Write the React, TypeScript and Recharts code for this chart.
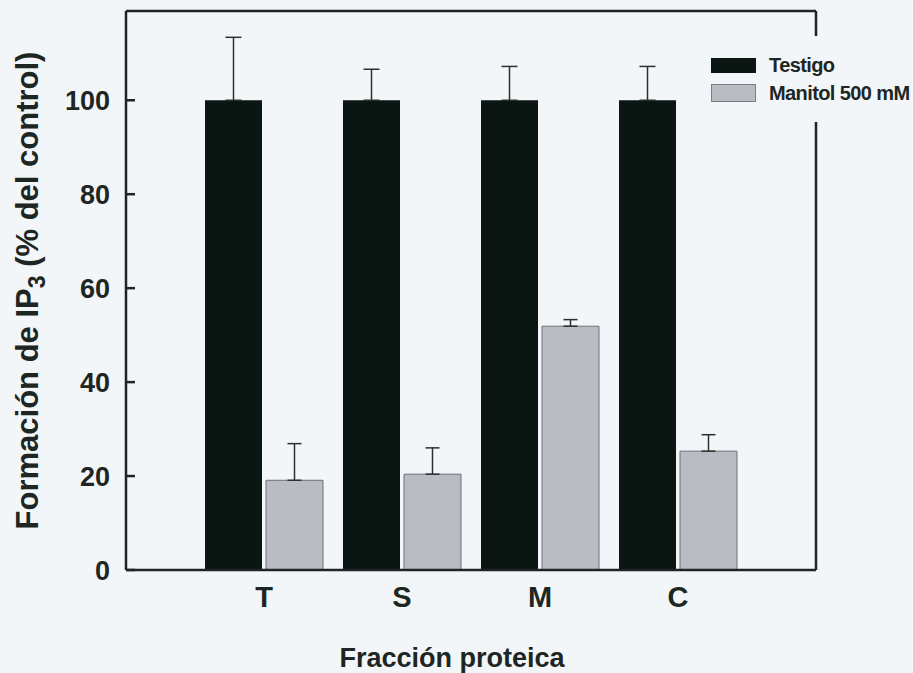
import React from 'react'
import {
  BarChart, Bar, XAxis, YAxis, ErrorBar, Legend, Label,
} from 'recharts'

const categories = ['T', 'S', 'M', 'C']
const testigo = [100, 100, 100, 100]
const testigoErr = [13.4, 6.6, 7.2, 7.2]
const manitol = [19.1, 20.4, 51.9, 25.3]
const manitolErr = [7.8, 5.6, 1.4, 3.5]
const yTicks = [0, 20, 40, 60, 80, 100]

const data = categories.map((name, i) => ({
  name,
  testigo: testigo[i],
  manitol: manitol[i],
  testigoErr: [0, testigoErr[i]],
  manitolErr: [0, manitolErr[i]],
}))

const BG = '#f3f6f8'
const INK = '#1d2623'
const FONT = '"Liberation Sans", Arial, sans-serif'
const DARK = '#0b1512'
const GREY = '#b9bdc3'

// tick marks come from the axis itself (negative tickSize = inward), only the text is custom
const YTick = ({ y, payload }: any) => (
  <text x={110} y={y + 10} textAnchor="end" fill={INK}
    fontFamily={FONT} fontWeight={700} fontSize={27}>{payload.value}</text>
)

const XTick = ({ x, y, payload }: any) => (
  <text x={x} y={570 + 37} textAnchor="middle" fill={INK}
    fontFamily={FONT} fontWeight={700} fontSize={29}>{payload.value}</text>
)

const YTitle = ({ viewBox }: any) => {
  const cx = 38
  const cy = viewBox.y + viewBox.height / 2
  return (
    <text x={cx} y={cy} transform={`rotate(-90 ${cx} ${cy})`} textAnchor="middle"
      fill={INK} fontFamily={FONT} fontWeight={700} fontSize={31}>
      Formación de IP<tspan dy={7} fontSize={23}>3</tspan>
      <tspan dy={-7}> (% del control)</tspan>
    </text>
  )
}

const LegendBox = () => (
  <div style={{ fontFamily: FONT, fontWeight: 700, fontSize: 20, color: INK, paddingTop: 17, paddingLeft: 6 }}>
    <div style={{ display: 'flex', alignItems: 'center', height: 24 }}>
      <span style={{ width: 45, height: 15, background: DARK, display: 'inline-block', marginRight: 13 }} />
      <span style={{ letterSpacing: -0.6 }}>Testigo</span>
    </div>
    <div style={{ display: 'flex', alignItems: 'center', height: 24, marginTop: 4 }}>
      <span style={{ width: 43, height: 16, background: GREY, border: '1px solid #7a7f85', display: 'inline-block', marginRight: 13 }} />
      <span style={{ letterSpacing: -0.6 }}>Manitol 500 mM</span>
    </div>
  </div>
)

export default function App() {
  return (
    <div style={{ position: 'absolute', left: 0, top: 0, width: 913, height: 673, background: BG }}>
      <BarChart width={913} height={673} data={data} barSize={57} barGap={4}
        margin={{ top: 10, right: 96, bottom: 0, left: 0 }}>
        <XAxis dataKey="name" height={103} padding={{ left: 69, right: 69 }}
          axisLine={{ stroke: INK, strokeWidth: 2.5 }} tickLine={false}
          tickSize={0} tickMargin={0} tick={<XTick />}>
          <Label value="Fracción proteica" position="insideBottom" offset={6} dx={-19}
            fill={INK} fontFamily={FONT} fontWeight={700} fontSize={27} />
        </XAxis>
        <XAxis xAxisId="top" dataKey="name" orientation="top" height={1}
          tick={false} tickLine={false} axisLine={{ stroke: INK, strokeWidth: 2.5 }} />
        <YAxis width={126} domain={[0, 119]} ticks={yTicks} allowDataOverflow
          axisLine={{ stroke: INK, strokeWidth: 2.5 }}
          tickLine={{ stroke: INK, strokeWidth: 2.5 }}
          tickSize={-9} tickMargin={0} tick={<YTick />}>
          <Label content={<YTitle />} />
        </YAxis>
        <YAxis yAxisId="right" orientation="right" width={1} domain={[0, 119]}
          tick={false} tickLine={false} axisLine={{ stroke: INK, strokeWidth: 2.5 }} />
        <Legend layout="vertical" align="center" verticalAlign="middle"
          content={<LegendBox />}
          wrapperStyle={{ left: 705, top: 36, width: 208, height: 86, background: BG }} />
        <Bar dataKey="testigo" name="Testigo" fill={DARK} isAnimationActive={false}>
          <ErrorBar dataKey="testigoErr" width={8} stroke="#2a302e" strokeWidth={1.5} direction="y" isAnimationActive={false} />
        </Bar>
        <Bar dataKey="manitol" name="Manitol 500 mM" fill={GREY} stroke="#6c7177" strokeWidth={1} isAnimationActive={false}>
          <ErrorBar dataKey="manitolErr" width={7} stroke="#2a302e" strokeWidth={1.5} direction="y" isAnimationActive={false} />
        </Bar>
      </BarChart>
    </div>
  )
}
